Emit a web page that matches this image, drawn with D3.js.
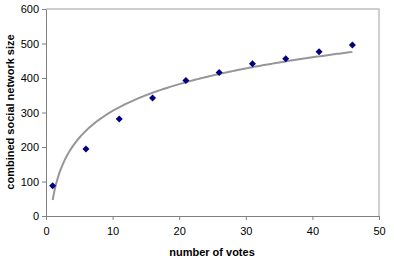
<!DOCTYPE html>
<html>
<head>
<meta charset="utf-8">
<script src="https://cdn.jsdelivr.net/npm/d3@7"></script>
<style>
  body { margin: 0; background: #fff; }
  text { font-family: "Liberation Sans", Arial, sans-serif; }
</style>
</head>
<body>
<script>
// votes vs combined network size
const votes = [1, 6, 11, 16, 21, 26, 31, 36, 41, 46];
const networkSize = [88, 194, 281, 342, 393, 416, 441, 456, 476, 496];
const xTicks = [0, 10, 20, 30, 40, 50];
const yTicks = [0, 100, 200, 300, 400, 500, 600];

const w = 394;
const h = 263;
const padLeft = 46, padRight = 379, padTop = 9, padBottom = 216;

const svg = d3.select("body").append("svg").attr("width", w).attr("height", h);

const xScale = d3.scaleLinear().domain([0, 50]).range([padLeft, padRight]);
const yScale = d3.scaleLinear().domain([0, 600]).range([padBottom, padTop]);

// plot area border (top and right light gray)
svg.append("path")
  .attr("d", "M" + padLeft + "," + padTop + "H" + padRight + "V" + padBottom)
  .attr("fill", "none")
  .attr("stroke", "#c0c0c0")
  .attr("stroke-width", 1.5);

// axes
const xAxis = d3.axisBottom(xScale).tickValues(xTicks).tickSize(4).tickSizeOuter(0);
const yAxis = d3.axisLeft(yScale).tickValues(yTicks).tickSize(4).tickSizeOuter(0);

const gx = svg.append("g").attr("transform", "translate(0," + padBottom + ")").call(xAxis);
const gy = svg.append("g").attr("transform", "translate(" + padLeft + ",0)").call(yAxis);

[gx, gy].forEach((g) => {
  g.select(".domain").attr("stroke", "#808080");
  g.selectAll(".tick line").attr("stroke", "#808080");
  g.selectAll(".tick text").attr("fill", "#000").style("font-size", "11px");
});
gx.selectAll(".tick text").attr("dy", "1.1em");
gy.selectAll(".tick text").attr("x", -7);

// logarithmic trend line fitted to the points
const lx = votes.map((v) => Math.log(v));
const mx = d3.mean(lx);
const my = d3.mean(networkSize);
const a = d3.sum(lx, (v, i) => (v - mx) * (networkSize[i] - my)) / d3.sum(lx, (v) => (v - mx) * (v - mx));
const b = my - a * mx;
const trend = d3.range(1, 46.01, 0.25).map((v) => [v, a * Math.log(v) + b]);

svg.append("path")
  .datum(trend)
  .attr("fill", "none")
  .attr("stroke", "#969696")
  .attr("stroke-width", 2)
  .attr("d", d3.line().x((d) => xScale(d[0])).y((d) => yScale(d[1])));

// diamond markers
svg.selectAll(".pt")
  .data(votes)
  .enter()
  .append("path")
  .attr("class", "pt")
  .attr("transform", (d, i) => "translate(" + xScale(d) + "," + yScale(networkSize[i]) + ")")
  .attr("d", "M0,-3.5L3.5,0L0,3.5L-3.5,0Z")
  .attr("fill", "#000080");

// axis titles
svg.append("text")
  .attr("x", 212)
  .attr("y", 256)
  .attr("text-anchor", "middle")
  .style("font-size", "11px")
  .style("font-weight", "bold")
  .text("number of votes");

svg.append("text")
  .attr("transform", "translate(14,112) rotate(-90)")
  .attr("text-anchor", "middle")
  .style("font-size", "11px")
  .style("font-weight", "bold")
  .text("combined social network size");
</script>
</body>
</html>
